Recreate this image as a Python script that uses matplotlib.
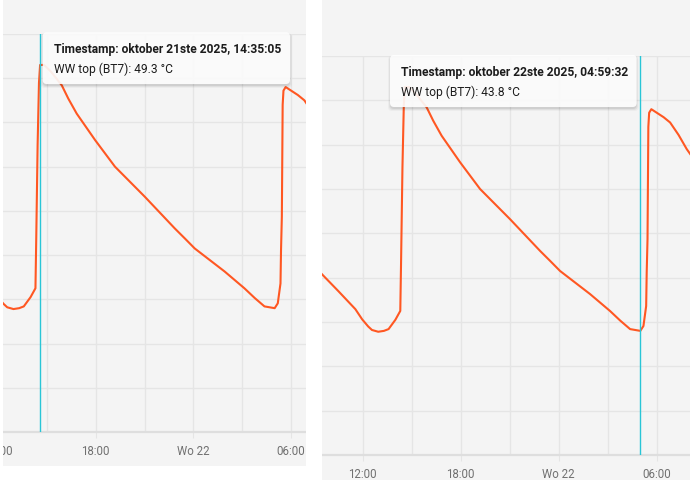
import numpy as np
import pandas as pd
import matplotlib
matplotlib.use('Agg')
import matplotlib.pyplot as plt
import matplotlib.dates as mdates
from matplotlib.patches import Rectangle, FancyBboxPatch
from matplotlib.transforms import Affine2D

plt.rcParams['font.family'] = ['Roboto', 'DejaVu Sans']

# WW top (BT7) readings
times = ['2025-10-21 09:30:00', '2025-10-21 10:30:00', '2025-10-21 11:33:00', '2025-10-21 11:58:00',
         '2025-10-21 12:20:00', '2025-10-21 12:34:00', '2025-10-21 12:57:00', '2025-10-21 13:18:00',
         '2025-10-21 13:35:00', '2025-10-21 14:00:00', '2025-10-21 14:18:00', '2025-10-21 14:21:00',
         '2025-10-21 14:26:00', '2025-10-21 14:31:00', '2025-10-21 14:35:05', '2025-10-21 14:50:00',
         '2025-10-21 15:15:00', '2025-10-21 15:55:00', '2025-10-21 16:19:00', '2025-10-21 16:50:00',
         '2025-10-21 17:58:00', '2025-10-21 19:11:00', '2025-10-21 21:01:00', '2025-10-21 22:52:00',
         '2025-10-21 23:28:00', '2025-10-22 00:05:00', '2025-10-22 01:55:00', '2025-10-22 03:08:00',
         '2025-10-22 03:46:00', '2025-10-22 04:22:00', '2025-10-22 04:59:32', '2025-10-22 05:11:00',
         '2025-10-22 05:21:00', '2025-10-22 05:23:00', '2025-10-22 05:26:00', '2025-10-22 05:29:00',
         '2025-10-22 05:32:00', '2025-10-22 05:40:00', '2025-10-22 06:00:00', '2025-10-22 06:25:00',
         '2025-10-22 06:49:00', '2025-10-22 07:20:00', '2025-10-22 07:50:00', '2025-10-22 08:06:00']
temps = [45.08, 44.70, 44.29, 44.06,
         43.90, 43.82, 43.78, 43.80,
         43.84, 44.05, 44.25, 45.40,
         47.50, 48.90, 49.30, 49.30,
         49.15, 48.84, 48.54, 48.20,
         47.60, 47.00, 46.32, 45.60,
         45.38, 45.15, 44.63, 44.25,
         44.03, 43.84, 43.80, 43.91,
         44.36, 45.12, 45.87, 48.40,
         48.72, 48.80, 48.72, 48.62,
         48.50, 48.22, 47.90, 47.76]

hover_times = ['2025-10-21 14:35:05', '2025-10-22 04:59:32']
hover_temps = [49.3, 43.8]
hover_stamps = ['oktober 21ste 2025, 14:35:05', 'oktober 22ste 2025, 04:59:32']

tick_times = ['2025-10-21 12:00:00', '2025-10-21 18:00:00', '2025-10-22 00:00:00', '2025-10-22 06:00:00']
tick_labels = ['12:00', '18:00', 'Wo 22', '06:00']
minor_times = ['2025-10-21 09:00:00', '2025-10-21 15:00:00', '2025-10-21 21:00:00', '2025-10-22 03:00:00']
temp_grid = list(range(41, 51))

view_ranges = [('2025-10-21 12:18:25', '2025-10-22 06:55:00'),
               ('2025-10-21 09:30:30', '2025-10-22 08:02:00')]

W, H = 690, 481
BG = '#f4f4f4'
GRID = '#e5e5e5'
LINE = '#ff5722'
CURSOR = '#29c5d6'

# layout of the two screenshots, in pixels from the top-left
panels = [
    dict(card=(3, 0, 306, 467), axes=(3, 35, 306, 433), tip=(42.7, 33.3, 290, 85)),
    dict(card=(322, 0, 690, 481), axes=(322, 57, 690, 456), tip=(390, 56, 636.7, 108)),
]


def to_num(stamps):
    return mdates.date2num(pd.to_datetime(stamps, format='ISO8601'))


fig = plt.figure(figsize=(W / 100, H / 100), dpi=100)
px = Affine2D().scale(1 / W, 1 / H) + fig.transFigure

t = to_num(times)

for i, p in enumerate(panels):
    cx0, cy0, cx1, cy1 = p['card']
    fig.add_artist(Rectangle((cx0, H - cy1), cx1 - cx0, cy1 - cy0, transform=px,
                             facecolor=BG, edgecolor='none', zorder=-1))

    x0, y0, x1, y1 = p['axes']
    ax = fig.add_axes([x0 / W, (H - y1) / H, (x1 - x0) / W, (y1 - y0) / H])
    ax.set_facecolor(BG)
    for s in ['top', 'left', 'right']:
        ax.spines[s].set_visible(False)
    ax.spines['bottom'].set_color('#dedede')
    ax.spines['bottom'].set_linewidth(1.6)

    ax.plot(t, temps, color=LINE, linewidth=1.5, solid_joinstyle='round', zorder=3)

    major = to_num(tick_times)
    ax.set_xticks(major)
    ax.set_xticks(to_num(minor_times), minor=True)
    ax.set_yticks(temp_grid)
    ax.tick_params(axis='x', which='major', length=4, color=GRID, labelbottom=False)
    ax.tick_params(axis='x', which='minor', length=0)
    ax.tick_params(axis='y', length=0, labelleft=False)
    ax.grid(True, which='both', color=GRID, linewidth=1.0)
    ax.set_axisbelow(True)

    # limits after the ticks, set_xticks would widen them otherwise
    lo, hi = to_num(list(view_ranges[i]))
    ax.set_xlim(lo, hi)
    ax.set_ylim(temp_grid[0], temp_grid[-1])

    hx = to_num([hover_times[i]])[0]
    ax.axvline(hx, color=CURSOR, linewidth=1.0, zorder=4)

    # tick labels drawn by hand so the clipped "12:00" on the left shows
    for tx, lab in zip(major, tick_labels):
        ax.annotate(lab, xy=(tx, 0), xycoords=ax.get_xaxis_transform(),
                    xytext=(0, -18.5), textcoords='offset pixels',
                    ha='center', va='center', fontsize=8.3, color='#707070',
                    annotation_clip=False)

    # tooltip
    tx0, ty0, tx1, ty1 = p['tip']
    for k, a in [(3, 0.03), (2, 0.05), (1, 0.07)]:
        fig.add_artist(FancyBboxPatch((tx0 - k + 1, H - ty1 - k - 1), tx1 - tx0 + 2 * k - 2, ty1 - ty0 + k,
                                      boxstyle='round,pad=0,rounding_size=4', transform=px,
                                      facecolor='black', edgecolor='none', alpha=a, zorder=8))
    fig.add_artist(FancyBboxPatch((tx0, H - ty1), tx1 - tx0, ty1 - ty0,
                                  boxstyle='round,pad=0,rounding_size=4', transform=px,
                                  facecolor='white', edgecolor='none', alpha=0.9, zorder=9))
    fig.text((tx0 + 11) / W, (H - ty0 - 16.3) / H, f'Timestamp: {hover_stamps[i]}',
             fontsize=8.65, fontweight='bold', color='#1c1c1c', va='center', zorder=10)
    fig.text((tx0 + 11) / W, (H - ty0 - 36) / H, f'WW top (BT7): {hover_temps[i]:.1f} °C',
             fontsize=8.65, color='#1c1c1c', va='center', zorder=10)

# white page edge that clips the first label of the left screenshot
fig.add_artist(Rectangle((0, 0), 3, H, transform=px, facecolor='white', edgecolor='none', zorder=20))
fig.add_artist(Rectangle((306, 0), 16, H, transform=px, facecolor='white', edgecolor='none', zorder=20))

fig.savefig('out.png', dpi=100, facecolor='white')
